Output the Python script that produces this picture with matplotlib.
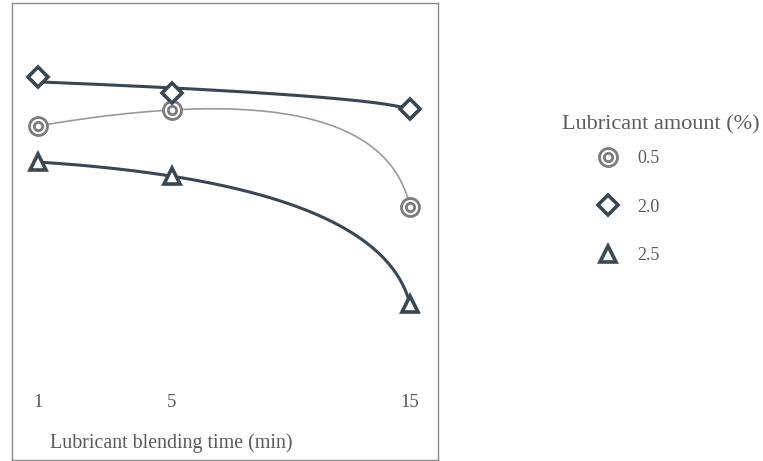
import numpy as np
import matplotlib
matplotlib.use('Agg')
import matplotlib.pyplot as plt
from matplotlib.lines import Line2D
from matplotlib.legend_handler import HandlerTuple

plt.rcParams['font.family'] = ['Liberation Serif', 'DejaVu Serif']

# ── data (arbitrary units, no y axis in the original) ─────────────────────────
blend_times = ['1', '5', '15']
x_pos = np.array([0.0, 1.0, 2.776])        # uneven spacing as in the figure
amounts = ['0.5', '2.0', '2.5']
y_05 = np.array([73.1, 76.6, 55.4])
y_20 = np.array([83.7, 80.2, 76.9])
y_25 = np.array([65.2, 62.1, 34.1])

DARK = '#3b4653'
GREY = '#7c7c7c'
TXT = '#5a5a5a'


def trend(x, y, linear=True, n=300):
    # smooth trend line: a + b*x + c*sqrt(end - x)
    end = x[-1] + 0.022
    def basis(v):
        cols = [np.ones_like(v), np.sqrt(end - v)]
        if linear:
            cols.insert(1, v)
        return np.column_stack(cols)
    coef, *_ = np.linalg.lstsq(basis(x), y, rcond=None)
    xs = np.linspace(x[0], x[-1], n)
    return xs, basis(xs) @ coef


fig = plt.figure(figsize=(7.63, 4.61), dpi=100)
ax = fig.add_axes([12 / 763, 1 / 461, 426 / 763, 457 / 461])
ax.set_xlim(-0.194, 2.985)
ax.set_ylim(0, 100)
ax.set_xticks([])
ax.set_yticks([])
for sp in ax.spines.values():
    sp.set_color('#8a8a8a')
    sp.set_linewidth(1.0)

# lines
xs, ys = trend(x_pos, y_05)
ax.plot(xs, ys, color='#9a9a9a', lw=1.2, zorder=2)
xs, ys = trend(x_pos, y_20, linear=False)
ax.plot(xs, ys, color=DARK, lw=2.2, zorder=2)
xs, ys = trend(x_pos, y_25)
ax.plot(xs, ys, color=DARK, lw=2.2, zorder=2)

# markers
circ_out = dict(ls='none', marker='o', ms=13, mfc='white', mec=GREY, mew=2.0)
circ_in = dict(ls='none', marker='o', ms=6, mfc='white', mec=GREY, mew=2.0)
diam = dict(ls='none', marker='D', ms=10, mfc='white', mec=DARK, mew=2.6)
tri = dict(ls='none', marker='^', ms=12, mfc='white', mec=DARK, mew=2.6)

ax.plot(x_pos, y_05, zorder=3, **circ_out)
ax.plot(x_pos, y_05, zorder=4, **circ_in)
ax.plot(x_pos, y_20, zorder=3, **diam)
ax.plot(x_pos, y_25, zorder=3, **tri)

# tick labels and x label drawn inside the box
for xp, lab in zip(x_pos, blend_times):
    ax.text(xp, 12.5, lab, ha='center', va='center', fontsize=13.5, color=TXT)
ax.text(0.373, 0.037, 'Lubricant blending time (min)', transform=ax.transAxes,
        ha='center', va='center', fontsize=14.4, color=TXT)

# legend
fig.text(562 / 763, 1 - 125 / 461, 'Lubricant amount (%)', ha='left', va='center',
         fontsize=16, color=TXT)
handles = [(Line2D([], [], **circ_out), Line2D([], [], **circ_in)),
           Line2D([], [], **diam),
           Line2D([], [], **tri)]
fig.legend(handles, amounts, loc='upper left',
           bbox_to_anchor=(594 / 763, 1 - 150 / 461), frameon=False,
           borderpad=0, borderaxespad=0, handlelength=1.5, handletextpad=0.9,
           labelspacing=1.75, fontsize=13, labelcolor=TXT,
           handler_map={tuple: HandlerTuple(ndivide=1)})

fig.savefig('out.png', dpi=100)
